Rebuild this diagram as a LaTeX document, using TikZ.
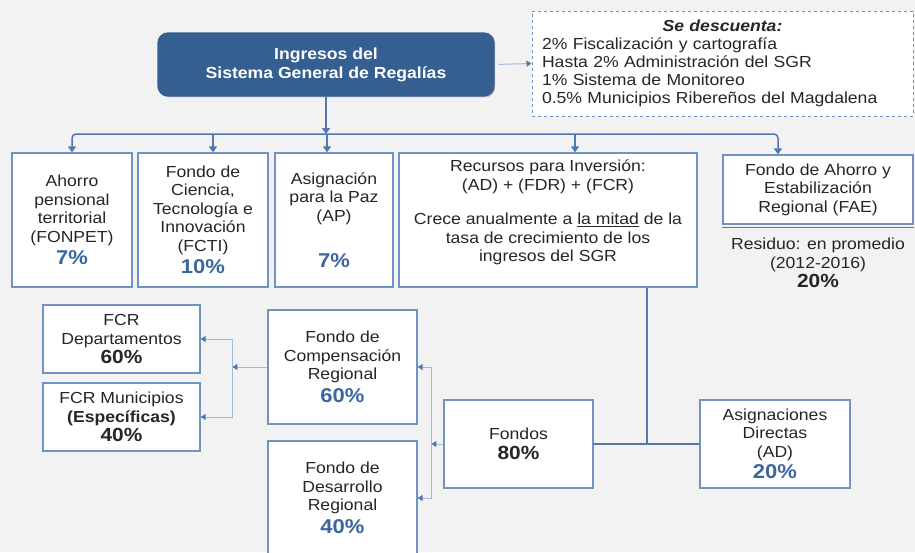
\documentclass[tikz,border=0pt]{standalone}
\usepackage{fontspec}
\setmainfont[FakeStretch=1.1]{Liberation Sans}
\usetikzlibrary{arrows.meta}
\usetikzlibrary{positioning}
\usetikzlibrary{shadows}
\usetikzlibrary{calc}

\definecolor{fondo}{HTML}{F2F2F2}
\definecolor{azul}{HTML}{355F91}
\definecolor{borde}{HTML}{7093C4}
\definecolor{linea}{HTML}{4F78B0}
\definecolor{lineaclara}{HTML}{A3BADA}
\definecolor{pct}{HTML}{3B66A1}
\definecolor{texto}{HTML}{262626}

\newcommand{\pazul}[1]{{\fontsize{20}{22}\selectfont\bfseries\color{pct}#1}}
\newcommand{\pnegro}[1]{{\fontsize{19}{21}\selectfont\bfseries #1}}

\tikzset{
  sombra/.style={drop shadow={shadow xshift=1.2pt, shadow yshift=-1.4pt, opacity=.3, fill=black!60}},
  caja/.style={draw=borde, line width=1.3pt, fill=white, align=center, inner sep=2pt,
    text=texto, font=\fontsize{16}{18.5}\selectfont, sombra},
  bus/.style={draw=linea, line width=1.5pt},
  flecha/.style={bus, -{Triangle[length=6pt,width=8pt]}},
  fina/.style={draw=lineaclara, line width=1pt},
  finaflecha/.style={fina, -{Triangle[length=5pt,width=6pt,color=linea]}}
}

\begin{document}
\begin{tikzpicture}[x=1pt,y=-1pt]
  \clip (0,0) rectangle (915,552);
  \fill[fondo] (0,0) rectangle (915,552);

  % ingresos y descuentos
  \node[caja, fill=azul, draw=azul, rounded corners=10pt, text=white,
    font=\fontsize{16}{19}\selectfont\bfseries,
    minimum width=336pt, minimum height=63pt] (ingresos) at (326,64.5)
    {Ingresos del\\Sistema General de Regalías};
  \node[draw=borde, dashed, line width=1pt, fill=white, text width=361pt, align=left,
    inner xsep=10pt, inner ysep=3pt, minimum height=105pt, text=texto,
    font=\fontsize{16}{18}\selectfont] (descuenta) at (722.5,63.5)
    {{\centering\bfseries\itshape Se descuenta:\par}
     2\% Fiscalización y cartografía\\
     Hasta 2\% Administración del SGR\\
     1\% Sistema de Monitoreo\\
     0.5\% Municipios Ribereños del Magdalena};

  % primer nivel
  \node[caja, minimum width=120pt, minimum height=134pt] (ahorro) at (72,220)
    {Ahorro\\pensional\\territorial\\(FONPET)\\[4pt]\pazul{7\%}};
  \node[caja, minimum width=130pt, minimum height=134pt] (fcti) at (203,220)
    {Fondo de\\Ciencia,\\Tecnología e\\Innovación\\(FCTI)\\[4pt]\pazul{10\%}};
  \node[caja, minimum width=118pt, minimum height=134pt] (ap) at (334,220)
    {Asignación\\para la Paz\\(AP)\\[28pt]\pazul{7\%}};
  \node[caja, minimum width=298pt, minimum height=134pt] (recursos) at (548,220)
    {Recursos para Inversión:\\(AD) + (FDR) + (FCR)\\[16pt]
     Crece anualmente a \underline{la mitad} de la\\tasa de crecimiento de los\\
     ingresos del SGR\\ \mbox{}};
  \node[caja, minimum width=190pt, minimum height=69pt] (fae) at (818,189.5)
    {Fondo de Ahorro y\\Estabilización\\Regional (FAE)};
  \node[align=center, text=texto, font=\fontsize{16}{18.5}\selectfont] (residuo) at (818,263)
    {Residuo: en promedio\\(2012-2016)\\[1pt]\pnegro{20\%}};

  % inversion
  \node[caja, minimum width=149pt, minimum height=88pt] (fondos) at (518.5,444)
    {Fondos\\[1pt]\pnegro{80\%}};
  \node[caja, minimum width=150pt, minimum height=88pt] (ad) at (775,444)
    {Asignaciones\\Directas\\(AD)\\[3pt]\pazul{20\%}};
  \node[caja, minimum width=149pt, minimum height=114pt] (fcrcomp) at (342.5,367)
    {Fondo de\\Compensación\\Regional\\[4pt]\pazul{60\%}};
  \node[caja, minimum width=149pt, minimum height=114pt] (fdr) at (342.5,498)
    {Fondo de\\Desarrollo\\Regional\\[4pt]\pazul{40\%}};
  \node[caja, minimum width=157pt, minimum height=68pt] (fcrdep) at (121.5,339)
    {FCR\\Departamentos\\[1pt]\pnegro{60\%}};
  \node[caja, minimum width=157pt, minimum height=68pt] (fcrmun) at (121.5,417)
    {FCR Municipios\\\textbf{(Específicas)}\\[1pt]\pnegro{40\%}};

  \coordinate (bus) at (72,134);
  \coordinate (ramaA) at ($(fcrcomp.west)+(-35,0)$);
  \coordinate (ramaB) at ($(fondos.west)+(-12,0)$);

  % conectores
  \draw[finaflecha, shorten <=4pt] (ingresos.east) -- (descuenta.west);
  \draw[flecha] (ingresos.south) -- (ingresos.south |- bus);
  \draw[flecha, rounded corners=4pt] (ingresos.south |- bus) -| (ahorro.north);
  \draw[flecha, rounded corners=4pt] (ingresos.south |- bus) -| ([xshift=-40pt]fae.north);
  \draw[flecha] ([xshift=10pt]fcti.north |- bus) -- ([xshift=10pt]fcti.north);
  \draw[flecha] ([xshift=-7pt]ap.north |- bus) -- ([xshift=-7pt]ap.north);
  \draw[flecha] ([xshift=27pt]recursos.north |- bus) -- ([xshift=27pt]recursos.north);
  \draw[bus] ([yshift=-3pt]fae.south west) -- ([yshift=-3pt]fae.south east);

  \draw[bus] ([xshift=99pt]recursos.south) -- ([xshift=99pt]recursos.south |- fondos.east);
  \draw[bus] (fondos.east) -- (ad.west);

  \draw[finaflecha] (fondos.west) -- (ramaB);
  \draw[finaflecha] (ramaB) |- (fcrcomp.east);
  \draw[finaflecha] (ramaB) |- (fdr.east);
  \draw[finaflecha] (fcrcomp.west) -- (ramaA);
  \draw[finaflecha] (ramaA) |- (fcrdep.east);
  \draw[finaflecha] (ramaA) |- (fcrmun.east);
\end{tikzpicture}
\end{document}
